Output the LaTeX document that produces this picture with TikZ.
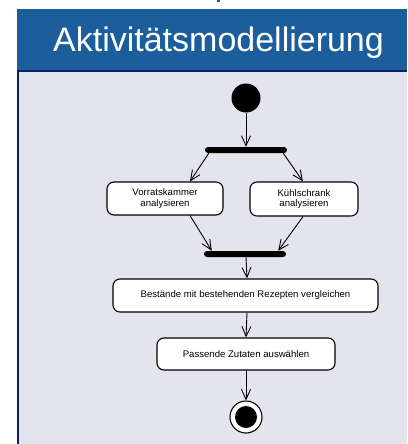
\documentclass[tikz,border=0pt]{standalone}
\usepackage{fontspec}
\setmainfont{Liberation Sans}
\usetikzlibrary{arrows.meta}
\definecolor{headblue}{HTML}{1B5E9B}
\definecolor{navy}{HTML}{0B2461}
\definecolor{panel}{HTML}{E4E4EF}
\tikzset{
  action/.style={draw=black, fill=white, line width=1.1pt, rounded corners=7pt,
    inner sep=0pt, align=center, font=\fontsize{9.6}{10.5}\selectfont},
  syncbar/.style={fill=black, rounded corners=3pt, minimum height=6pt, inner sep=0pt},
  flow/.style={line width=0.9pt, -{Straight Barb[length=10pt,width=9pt,line width=0.9pt]}},
}
\begin{document}
\begin{tikzpicture}[x=1pt, y=-1pt]
\useasboundingbox (0,0) rectangle (407,444);
% slide frame
\fill[white] (0,0) rectangle (407,444);
\fill[headblue] (217,0) rectangle (219.5,2.5);
\fill[headblue] (17,9) rectangle (407,71);
\fill[panel] (17,71) rectangle (407,444);
\draw[navy, line width=2pt] (18,444) -- (18,71) -- (407,71);
\node[anchor=base, text=white, font=\fontsize{34}{36}\selectfont] (title) at (218.5,52) {Aktivitätsmodellierung};

% activity diagram
\node[circle, fill=black, minimum size=29pt, inner sep=0pt] (start) at (246,98) {};
\node[syncbar, minimum width=82pt] (fork) at (246,150) {};
\node[action, minimum width=116pt, minimum height=33pt] (vorrat) at (165,198.5) {Vorratskammer\\analysieren};
\node[action, minimum width=108pt, minimum height=34pt] (kuehl) at (304,199) {Kühlschrank\\analysieren};
\node[syncbar, minimum width=82pt] (join) at (245,254) {};
\node[action, minimum width=265pt, minimum height=33pt] (bestand) at (245.5,295.5) {Bestände mit bestehenden Rezepten vergleichen};
\node[action, minimum width=178pt, minimum height=32pt] (passend) at (246,354) {Passende Zutaten auswählen};
\node[circle, draw=black, line width=1.1pt, fill=white, minimum size=32pt, inner sep=0pt] (final) at (246,417) {};
\node[circle, fill=black, minimum size=22pt, inner sep=0pt] (finalcore) at (final) {};

\draw[flow] (start) -- (fork.north);
\draw[flow] ([xshift=4pt]fork.south west) -- ([xshift=25pt]vorrat.north);
\draw[flow] ([xshift=-4pt]fork.south east) -- ([xshift=-1pt]kuehl.north);
\draw[flow] ([xshift=25pt]vorrat.south) -- ([xshift=8pt]join.north west);
\draw[flow] ([xshift=-1pt]kuehl.south) -- ([xshift=-8pt]join.north east);
\draw[flow] ([xshift=1pt]join.south) -- ([xshift=1.5pt]bestand.north);
\draw[flow] ([xshift=1.5pt]bestand.south) -- (passend.north);
\draw[flow] (passend.south) -- (final.north);
\end{tikzpicture}
\end{document}
